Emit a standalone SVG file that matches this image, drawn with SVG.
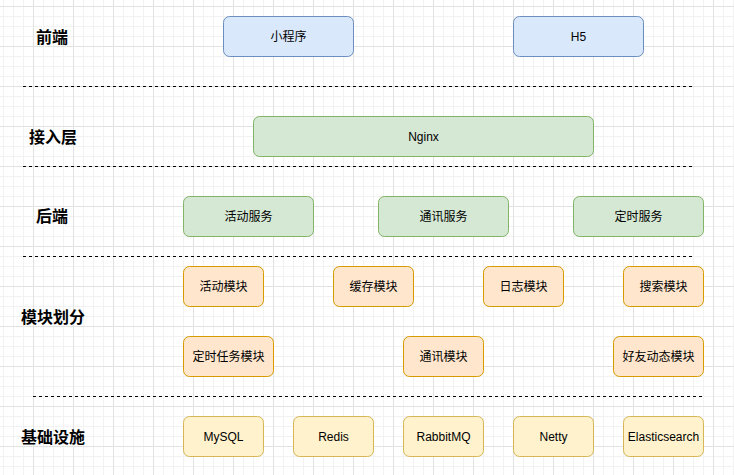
<svg xmlns="http://www.w3.org/2000/svg" width="734" height="475" viewBox="0 0 734 475">
  <defs>
    <pattern id="gMinor" patternUnits="userSpaceOnUse" x="3" y="6" width="10" height="10">
      <path d="M0.5 0V10M0 0.5H10" stroke="#f2f2f2" stroke-width="1" fill="none"/>
    </pattern>
    <pattern id="gMajor" patternUnits="userSpaceOnUse" x="33" y="6" width="40" height="40">
      <path d="M0.5 0V40M0 0.5H40" stroke="#e2e2e2" stroke-width="1" fill="none"/>
    </pattern>
  </defs>
  <style>
    .blue rect{fill:#dae8fc;stroke:#6c8ebf;stroke-width:1}
    .green rect{fill:#d5e8d4;stroke:#82b366;stroke-width:1}
    .orange rect{fill:#ffe6cc;stroke:#d79b00;stroke-width:1}
    .yellow rect{fill:#fff2cc;stroke:#d6b656;stroke-width:1}
    .node text{font-family:"Liberation Sans","Noto Sans CJK SC",sans-serif;font-size:12px;fill:#000;text-anchor:middle;dominant-baseline:central}
    .lbl{font-family:"Noto Sans CJK SC",sans-serif;font-size:16px;font-weight:bold;fill:#000;text-anchor:middle;dominant-baseline:central}
    .sep{stroke:#000;stroke-width:1;stroke-dasharray:3 3;fill:none}
  </style>
  <rect width="734" height="475" fill="#ffffff"/>
  <rect width="734" height="475" fill="url(#gMinor)"/>
  <rect width="734" height="475" fill="url(#gMajor)"/>

  <g id="separators">
    <path class="sep" d="M23 86.5H693"/>
    <path class="sep" d="M23 166.5H693"/>
    <path class="sep" d="M23 256.5H693"/>
    <path class="sep" d="M33 396.5H703"/>
  </g>

  <g id="layer-labels">
    <text class="lbl" x="52" y="36">前端</text>
    <text class="lbl" x="53" y="136">接入层</text>
    <text class="lbl" x="52" y="215">后端</text>
    <text class="lbl" x="53" y="316">模块划分</text>
    <text class="lbl" x="53" y="436">基础设施</text>
  </g>

  <g id="connectors"></g>

  <g id="n-miniprogram" class="node blue"><rect x="223.5" y="16.5" width="130" height="40" rx="6"/><text x="288.5" y="36.5">小程序</text></g>
  <g id="n-h5" class="node blue"><rect x="513.5" y="16.5" width="130" height="40" rx="6"/><text x="578.5" y="36.5">H5</text></g>

  <g id="n-nginx" class="node green"><rect x="253.5" y="116.5" width="340" height="40" rx="6"/><text x="423.5" y="136.5">Nginx</text></g>

  <g id="n-activity-svc" class="node green"><rect x="183.5" y="196.5" width="130" height="40" rx="6"/><text x="248.5" y="216.5">活动服务</text></g>
  <g id="n-comm-svc" class="node green"><rect x="378.5" y="196.5" width="130" height="40" rx="6"/><text x="443.5" y="216.5">通讯服务</text></g>
  <g id="n-timer-svc" class="node green"><rect x="573.5" y="196.5" width="130" height="40" rx="6"/><text x="638.5" y="216.5">定时服务</text></g>

  <g id="n-activity-mod" class="node orange"><rect x="183.5" y="266.5" width="80" height="40" rx="6"/><text x="223.5" y="286.5">活动模块</text></g>
  <g id="n-cache-mod" class="node orange"><rect x="333.5" y="266.5" width="80" height="40" rx="6"/><text x="373.5" y="286.5">缓存模块</text></g>
  <g id="n-log-mod" class="node orange"><rect x="483.5" y="266.5" width="80" height="40" rx="6"/><text x="523.5" y="286.5">日志模块</text></g>
  <g id="n-search-mod" class="node orange"><rect x="623.5" y="266.5" width="80" height="40" rx="6"/><text x="663.5" y="286.5">搜索模块</text></g>
  <g id="n-timer-mod" class="node orange"><rect x="183.5" y="336.5" width="90" height="40" rx="6"/><text x="228.5" y="356.5">定时任务模块</text></g>
  <g id="n-comm-mod" class="node orange"><rect x="403.5" y="336.5" width="80" height="40" rx="6"/><text x="443.5" y="356.5">通讯模块</text></g>
  <g id="n-friend-mod" class="node orange"><rect x="613.5" y="336.5" width="90" height="40" rx="6"/><text x="658.5" y="356.5">好友动态模块</text></g>

  <g id="n-mysql" class="node yellow"><rect x="183.5" y="416.5" width="80" height="40" rx="6"/><text x="223.5" y="436.5">MySQL</text></g>
  <g id="n-redis" class="node yellow"><rect x="293.5" y="416.5" width="80" height="40" rx="6"/><text x="333.5" y="436.5">Redis</text></g>
  <g id="n-rabbitmq" class="node yellow"><rect x="403.5" y="416.5" width="80" height="40" rx="6"/><text x="443.5" y="436.5">RabbitMQ</text></g>
  <g id="n-netty" class="node yellow"><rect x="513.5" y="416.5" width="80" height="40" rx="6"/><text x="553.5" y="436.5">Netty</text></g>
  <g id="n-es" class="node yellow"><rect x="623.5" y="416.5" width="80" height="40" rx="6"/><text x="663.5" y="436.5">Elasticsearch</text></g>
</svg>
